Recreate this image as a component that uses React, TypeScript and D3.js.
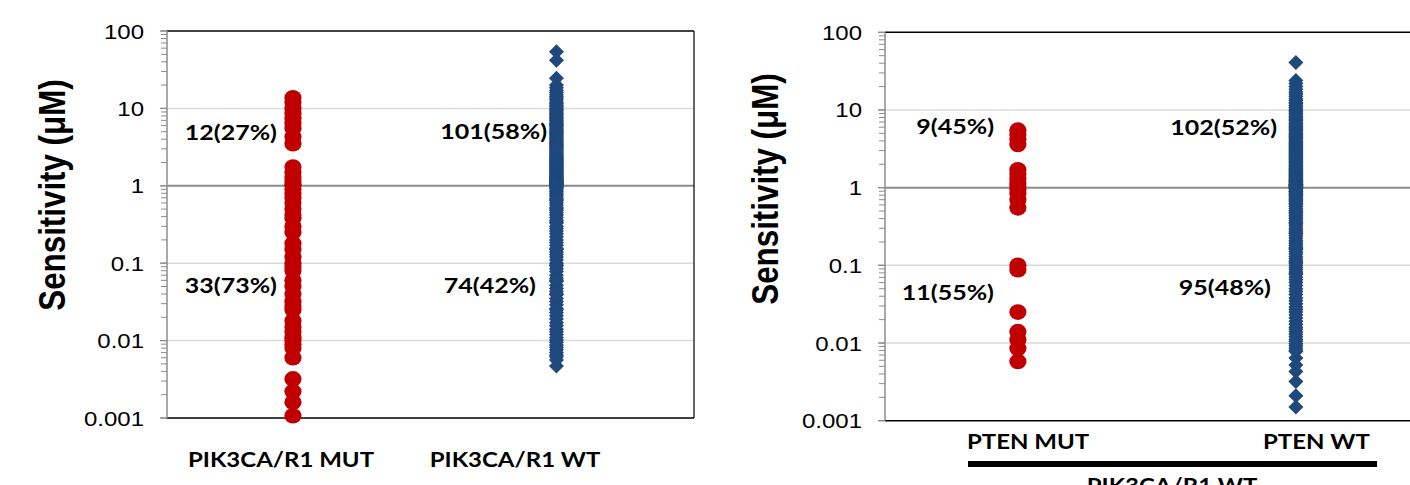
import React from "react";
import * as d3 from "d3";

// ---------- DATA ----------
const yTickValues = [100, 10, 1, 0.1, 0.01, 0.001];
const yTickLabels = ["100", "10", "1", "0.1", "0.01", "0.001"];
const gridValues = [10, 0.1, 0.01];
const thresholdValue = 1;

const leftCategories = ["PIK3CA/R1 MUT", "PIK3CA/R1 WT"];
const rightCategories = ["PTEN MUT", "PTEN WT"];
const rightGroupLabel = "PIK3CA/R1 WT";

const leftMutValues = [
  13.7, 12, 10, 8.6, 7.4, 6.4, 5.5, 4.3, 3.5, 1.75, 1.5, 1.3, 1.15, 1.05, 1.02,
  0.9, 0.8, 0.7, 0.6, 0.5, 0.42, 0.38, 0.3, 0.25, 0.18, 0.15, 0.12, 0.1, 0.09, 0.08,
  0.06, 0.05, 0.04, 0.032, 0.028, 0.025, 0.018, 0.015, 0.013, 0.011, 0.01, 0.009, 0.008, 0.006,
  0.0032, 0.0022, 0.0016, 0.00107,
];
const leftWtValues = [
  54, 42, 24.5,
  20, 18.5, 17, 16, 15, 14.2, 13.5, 12.8, 12, 11.5,
  11, 10.5, 10.1, 9.7, 9.3, 9, 8.6, 8.3, 8, 7.7,
  7.4, 7.1, 6.9, 6.6, 6.4, 6.2, 6, 5.8, 5.6, 5.4,
  5.2, 5, 4.85, 4.7, 4.55, 4.4, 4.25, 4.1, 3.95, 3.8,
  3.7, 3.6, 3.5, 3.4, 3.3, 3.2, 3.1, 3, 2.9, 2.82,
  2.74, 2.66, 2.58, 2.5, 2.43, 2.36, 2.3, 2.24, 2.18, 2.12,
  2.06, 2, 1.95, 1.9, 1.85, 1.8, 1.76, 1.72, 1.68, 1.64,
  1.6, 1.56, 1.52, 1.49, 1.46, 1.43, 1.4, 1.37, 1.34, 1.31,
  1.28, 1.26, 1.24, 1.22, 1.2, 1.18, 1.16, 1.14, 1.12, 1.1,
  1.09, 1.08, 1.07, 1.06, 1.05, 1.04, 1.03, 1.02,
  0.98, 0.95, 0.92, 0.88, 0.84, 0.8, 0.76, 0.72, 0.68, 0.64,
  0.6, 0.56, 0.52, 0.48, 0.45, 0.42, 0.39, 0.36, 0.33, 0.3,
  0.28, 0.26, 0.24, 0.22, 0.2, 0.185, 0.17, 0.155, 0.14, 0.13,
  0.12, 0.11, 0.1, 0.092, 0.085, 0.078, 0.07, 0.064, 0.058, 0.052,
  0.047, 0.043, 0.039, 0.035, 0.032, 0.029, 0.026, 0.023, 0.021, 0.019,
  0.017, 0.0155, 0.014, 0.013, 0.012, 0.011, 0.0102, 0.0095, 0.0088, 0.0082,
  0.0076, 0.007, 0.0065, 0.0062, 0.0056, 0.0047,
  0.66, 0.5, 0.34, 0.15, 0.095, 0.06, 0.04, 0.025,
];
const rightMutValues = [
  5.5, 4.8, 4.2, 3.6, 1.7, 1.5, 1.3, 1.15, 1.05,
  0.95, 0.85, 0.7, 0.55, 0.1, 0.088, 0.025, 0.014, 0.011, 0.0085, 0.0058,
];
const rightWtValues = [
  40.8,
  24, 22, 20, 18.5, 17, 16, 15, 14, 13.2, 12.5,
  12, 11.4, 10.8, 10.3, 9.8, 9.4, 9, 8.6, 8.2, 7.9,
  7.6, 7.3, 7, 6.7, 6.4, 6.2, 6, 5.8, 5.6, 5.4,
  5.2, 5, 4.85, 4.7, 4.55, 4.4, 4.25, 4.1, 3.95, 3.8,
  3.7, 3.6, 3.5, 3.4, 3.3, 3.2, 3.1, 3, 2.92, 2.84,
  2.76, 2.68, 2.6, 2.52, 2.45, 2.38, 2.31, 2.25, 2.19, 2.13,
  2.07, 2.01, 1.96, 1.91, 1.86, 1.81, 1.77, 1.73, 1.69, 1.65,
  1.61, 1.57, 1.53, 1.5, 1.47, 1.44, 1.41, 1.38, 1.35, 1.32,
  1.29, 1.27, 1.25, 1.23, 1.21, 1.19, 1.17, 1.15, 1.13, 1.11,
  1.1, 1.09, 1.08, 1.07, 1.06, 1.05, 1.04, 1.03, 1.02, 1.015, 1.01,
  0.99, 0.96, 0.93, 0.9, 0.87, 0.84, 0.81, 0.78, 0.75, 0.72,
  0.69, 0.66, 0.63, 0.6, 0.57, 0.54, 0.51, 0.48, 0.46, 0.44,
  0.42, 0.4, 0.38, 0.36, 0.34, 0.32, 0.3, 0.285, 0.27, 0.255,
  0.24, 0.225, 0.21, 0.2, 0.19, 0.18, 0.17, 0.16, 0.15, 0.14,
  0.13, 0.122, 0.114, 0.106, 0.1, 0.094, 0.088, 0.082, 0.076, 0.07,
  0.065, 0.06, 0.055, 0.05, 0.046, 0.042, 0.038, 0.035, 0.032, 0.029,
  0.027, 0.025, 0.023, 0.021, 0.019, 0.0175, 0.016, 0.015, 0.014, 0.013,
  0.012, 0.0112, 0.0105, 0.0098, 0.0092, 0.0086, 0.0081, 0.0078,
  0.97, 0.89, 0.8, 0.7, 0.62, 0.5, 0.35, 0.26, 0.165, 0.11, 0.078,
  0.0064, 0.0052, 0.0043, 0.0032, 0.0021, 0.0015,
];

const leftLabels = ["12(27%)", "33(73%)", "101(58%)", "74(42%)"];
const rightLabels = ["9(45%)", "11(55%)", "102(52%)", "95(48%)"];
const yTitle = "Sensitivity (\u03BCM)";

// ---------- STYLE ----------
const RED = "#C00000";
const BLUE = "#1F497D";
const SY = 0.87;
const CAL = "Lato, 'Open Sans', sans-serif";
const ARIAL = "'Liberation Sans', Arial, sans-serif";

type PanelDef = {
  x0: number; x1: number; y0: number; y1: number;
  categories: string[];
  mut: number[]; wt: number[];
  labels: string[];
  labelPos: { x: number; y: number }[];
  catPos: { x: number; y: number; anchor: string }[];
  titleX: number; titleY: number;
};

const TText = (p: {
  x: number; y: number; anchor?: string; size: number; weight?: string | number;
  family: string; rotate?: boolean; children: React.ReactNode;
}) => (
  <text
    transform={`translate(${p.x},${p.y}) scale(1,${SY})${p.rotate ? " rotate(-90)" : ""}`}
    textAnchor={p.anchor || "start"}
    fontSize={p.size}
    fontWeight={p.weight || "normal"}
    fontFamily={p.family}
    fill="#000"
  >
    {p.children}
  </text>
);

const Panel = ({ d }: { d: PanelDef }) => {
  const y = d3.scaleLog().domain([0.001, 100]).range([d.y1, d.y0]);
  const x = d3.scaleLinear().domain([0.522, 2.522]).range([d.x0, d.x1]);
  const minor = y.ticks();
  const diamond = (cx: number, cy: number) =>
    `M${cx},${cy - 7.5}L${cx + 7.5},${cy}L${cx},${cy + 7.5}L${cx - 7.5},${cy}Z`;
  return (
    <g>
      {gridValues.map((v) => (
        <line key={v} x1={d.x0} x2={d.x1} y1={y(v)} y2={y(v)} stroke="#d9d9d9" strokeWidth={1.5} />
      ))}
      <line x1={d.x0} x2={d.x1} y1={y(thresholdValue)} y2={y(thresholdValue)} stroke="#8c8c8c" strokeWidth={2} />
      <line x1={d.x0} x2={d.x1} y1={d.y0} y2={d.y0} stroke="#000" strokeWidth={1.5} />
      <line x1={d.x0} x2={d.x1} y1={d.y1} y2={d.y1} stroke="#000" strokeWidth={1.5} />
      <line x1={d.x1} x2={d.x1} y1={d.y0} y2={d.y1} stroke="#000" strokeWidth={1.2} />
      {minor.map((v, i) => (
        <line key={i} x1={d.x0 - 6} x2={d.x0} y1={y(v)} y2={y(v)} stroke="#8c8c8c" strokeWidth={1} />
      ))}
      {yTickValues.map((v) => (
        <line key={v} x1={d.x0 - 7} x2={d.x0} y1={y(v)} y2={y(v)} stroke="#8c8c8c" strokeWidth={1.3} />
      ))}
      <line x1={d.x0} x2={d.x0} y1={d.y0} y2={d.y1} stroke="#8c8c8c" strokeWidth={1.5} />
      {yTickValues.map((v, i) => (
        <TText key={v} x={d.x0 - 23} y={y(v) + 7.5} anchor="end" size={24} family={ARIAL}>
          {yTickLabels[i]}
        </TText>
      ))}
      {d.wt.map((v, i) => (
        <path key={"w" + i} d={diamond(x(2), y(v))} fill={BLUE} />
      ))}
      {d.mut.map((v, i) => (
        <ellipse key={"m" + i} cx={x(1)} cy={y(v)} rx={8.6} ry={7.8} fill={RED} />
      ))}
      {d.labels.map((t, i) => (
        <TText key={t} x={d.labelPos[i].x} y={d.labelPos[i].y + 7.8} anchor="end" size={25} weight={700} family={CAL}>
          {t}
        </TText>
      ))}
      {d.categories.map((t, i) => (
        <TText key={t} x={d.catPos[i].x} y={d.catPos[i].y} anchor={d.catPos[i].anchor} size={24} weight={700} family={CAL}>
          {t}
        </TText>
      ))}
      <TText x={d.titleX} y={d.titleY} anchor="middle" size={36} weight={700} family={ARIAL} rotate>
        {yTitle}
      </TText>
    </g>
  );
};

const leftPanel: PanelDef = {
  x0: 167, x1: 694, y0: 31, y1: 418,
  categories: leftCategories,
  mut: leftMutValues, wt: leftWtValues,
  labels: leftLabels,
  labelPos: [
    { x: 277, y: 132.5 },
    { x: 277, y: 285 },
    { x: 547, y: 131 },
    { x: 536, y: 285 },
  ],
  catPos: [
    { x: 281, y: 467, anchor: "middle" },
    { x: 515, y: 467, anchor: "middle" },
  ],
  titleX: 65, titleY: 195,
};

const rightPanel: PanelDef = {
  x0: 885, x1: 1441, y0: 32.3, y1: 420.7,
  categories: rightCategories,
  mut: rightMutValues, wt: rightWtValues,
  labels: rightLabels,
  labelPos: [
    { x: 994, y: 126 },
    { x: 994, y: 292.5 },
    { x: 1277, y: 127 },
    { x: 1271, y: 287 },
  ],
  catPos: [
    { x: 967, y: 449, anchor: "start" },
    { x: 1263, y: 449, anchor: "start" },
  ],
  titleX: 778, titleY: 189,
};

export default function App() {
  return (
    <svg
      width={1410}
      height={485}
      style={{ position: "absolute", left: 0, top: 0, background: "#fff" }}
    >
      <rect x={0} y={0} width={1410} height={485} fill="#fff" />
      <Panel d={leftPanel} />
      <Panel d={rightPanel} />
      <rect x={968} y={461} width={409} height={6} fill="#000" />
      <TText x={1172} y={493} anchor="middle" size={24} weight={700} family={CAL}>
        {rightGroupLabel}
      </TText>
    </svg>
  );
}
